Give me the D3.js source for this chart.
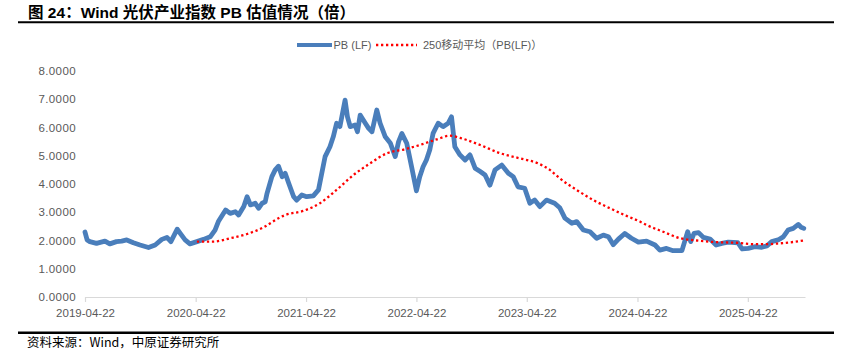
<!DOCTYPE html>
<html><head><meta charset="utf-8">
<script src="https://cdn.jsdelivr.net/npm/d3@7"></script>
<style>body{margin:0;background:#fff}svg{display:block}</style>
</head><body><svg id="c" width="850" height="356"></svg>
<script>
const titleText = "图 24：Wind 光伏产业指数 PB 估值情况（倍）";
const sourceText = "资料来源：Wind，中原证券研究所";
const legendLabels = ["PB (LF)", "250移动平均（PB(LF)）"];
const xTickLabels = ["2019-04-22","2020-04-22","2021-04-22","2022-04-22","2023-04-22","2024-04-22","2025-04-22"];
const xDomain = ["2019-04-22","2025-10-28"];
const yTicks = [0,1,2,3,4,5,6,7,8];

const pbDates = ["2019-04-22","2019-04-29","2019-05-08","2019-05-30","2019-06-27","2019-07-13","2019-08-04","2019-08-21","2019-09-07","2019-09-29",
"2019-10-21","2019-11-18","2019-12-10","2020-01-01","2020-01-18","2020-01-31","2020-02-21","2020-03-02","2020-03-18","2020-04-03",
"2020-04-26","2020-05-18","2020-06-09","2020-06-25","2020-07-06","2020-07-30","2020-08-14","2020-08-31","2020-09-11","2020-09-28",
"2020-10-09","2020-10-20","2020-11-05","2020-11-16","2020-11-28","2020-12-08","2020-12-14","2020-12-30","2021-01-10","2021-01-21",
"2021-02-02","2021-02-12","2021-02-24","2021-03-12","2021-03-22","2021-04-08","2021-04-24","2021-05-16","2021-06-02","2021-06-13",
"2021-06-24","2021-07-10","2021-07-21","2021-08-01","2021-08-12","2021-08-29","2021-09-06","2021-09-15","2021-10-01","2021-10-09",
"2021-10-18","2021-11-04","2021-11-15","2021-11-26","2021-12-12","2021-12-23","2022-01-09","2022-01-26","2022-02-11","2022-02-22",
"2022-03-05","2022-03-21","2022-04-06","2022-04-22","2022-05-03","2022-05-14","2022-05-25","2022-06-05","2022-06-16","2022-07-03",
"2022-07-19","2022-08-05","2022-08-16","2022-08-27","2022-09-13","2022-09-30","2022-10-16","2022-11-02","2022-11-19","2022-12-05",
"2022-12-21","2023-01-07","2023-01-29","2023-02-20","2023-03-08","2023-03-24","2023-04-15","2023-05-02","2023-05-18","2023-06-04",
"2023-06-26","2023-07-23","2023-08-09","2023-08-26","2023-09-18","2023-10-04","2023-10-26","2023-11-17","2023-12-09","2023-12-31",
"2024-01-17","2024-02-02","2024-02-19","2024-03-11","2024-04-02","2024-04-25","2024-05-22","2024-06-19","2024-07-05","2024-07-27",
"2024-08-18","2024-09-16","2024-09-25","2024-10-05","2024-10-15","2024-10-26","2024-11-10","2024-11-26","2024-12-18","2025-01-07",
"2025-01-26","2025-02-16","2025-03-20","2025-04-03","2025-04-23","2025-05-15","2025-06-07","2025-06-24","2025-07-10","2025-07-31",
"2025-08-17","2025-09-02","2025-09-19","2025-10-06","2025-10-15","2025-10-24"];
const pbValues = [2.30,2.02,1.96,1.90,1.98,1.88,1.96,1.98,2.02,1.92,
1.84,1.75,1.84,2.04,2.11,1.96,2.40,2.25,2.02,1.88,
1.96,2.04,2.13,2.37,2.67,3.08,2.96,3.02,2.90,3.20,
3.55,3.26,3.32,3.14,3.32,3.37,3.67,4.26,4.50,4.63,
4.26,4.38,4.02,3.55,3.43,3.61,3.55,3.58,3.79,4.38,
4.97,5.32,5.67,6.15,6.03,6.97,6.38,6.03,6.09,5.85,
6.44,6.15,5.97,5.85,6.62,6.15,5.67,5.44,4.97,5.50,
5.79,5.44,4.61,3.76,4.26,4.61,4.85,5.20,5.79,6.15,
6.03,6.15,6.38,5.32,5.03,4.85,5.03,4.56,4.44,4.32,
3.96,4.50,4.67,4.38,4.26,3.90,3.85,3.32,3.43,3.20,
3.43,3.32,3.16,2.79,2.61,2.67,2.37,2.31,2.08,2.19,
2.13,1.85,2.05,2.25,2.08,1.94,1.98,1.84,1.66,1.72,
1.64,1.64,1.96,2.31,1.96,2.25,2.28,2.11,2.05,1.84,
1.90,1.94,1.92,1.70,1.72,1.78,1.76,1.81,1.96,2.02,
2.13,2.37,2.43,2.57,2.47,2.43];

const maDates = ["2020-04-26","2020-06-19","2020-08-14","2020-10-09","2020-12-03","2021-01-21","2021-02-12","2021-04-13","2021-06-07","2021-08-01",
"2021-09-26","2021-11-20","2022-01-15","2022-03-11","2022-05-03","2022-06-28","2022-08-11","2022-09-13","2022-11-19","2023-01-24",
"2023-03-29","2023-05-29","2023-07-07","2023-08-09","2023-10-04","2023-11-28","2024-01-22","2024-03-17","2024-04-30","2024-05-22",
"2024-07-16","2024-09-10","2024-11-04","2025-01-10","2025-03-15","2025-05-09","2025-06-23","2025-08-06","2025-10-12","2025-10-24"];
const maValues = [1.96,1.96,2.08,2.23,2.47,2.79,2.90,3.05,3.32,3.79,
4.32,4.73,5.09,5.22,5.38,5.58,5.71,5.63,5.38,5.09,
4.91,4.73,4.50,4.20,3.79,3.43,3.14,2.87,2.67,2.55,
2.31,2.08,2.00,1.94,1.92,1.87,1.87,1.90,1.98,2.00];

const parse = d3.timeParse("%Y-%m-%d");
const pb = pbDates.map((d,i)=>({date:parse(d), v:pbValues[i]}));
const ma = maDates.map((d,i)=>({date:parse(d), v:maValues[i]}));

const svg = d3.select("#c");
const gray = "#595959";
const blue = "#4a7ebb";
const red = "#ff0000";

const x = d3.scaleTime().domain(xDomain.map(parse)).range([85,805]);
const y = d3.scaleLinear().domain([0,8]).range([297,71]);

// title
svg.append("text").attr("x",28).attr("y",17.5)
  .attr("font-family","'Liberation Sans','Noto Sans CJK SC',sans-serif")
  .attr("font-weight","bold").attr("font-size",15.5).attr("fill","#000")
  .attr("textLength",327).attr("lengthAdjust","spacing")
  .text(titleText);
svg.append("line").attr("x1",18).attr("x2",834).attr("y1",22.3).attr("y2",22.3)
  .attr("stroke","#000").attr("stroke-width",2);
svg.append("line").attr("x1",18).attr("x2",834).attr("y1",332.7).attr("y2",332.7)
  .attr("stroke","#000").attr("stroke-width",2.5);
svg.append("text").attr("x",27).attr("y",343).attr("dy","0.35em")
  .attr("font-family","'Noto Sans CJK SC',sans-serif").attr("font-size",12.5).attr("fill","#000")
  .text(sourceText);

// y axis
const yAxis = d3.axisLeft(y).tickValues(yTicks).tickSize(0).tickPadding(9).tickFormat(d3.format(".4f"));
const gy = svg.append("g").attr("transform","translate(85,0)").call(yAxis);
gy.select(".domain").remove();
gy.selectAll("text").attr("font-family","'Liberation Sans',sans-serif").attr("font-size",11.5)
  .attr("fill",gray).attr("letter-spacing","0.4px");

// x axis
const xAxis = d3.axisBottom(x).tickValues(xTickLabels.map(parse)).tickSize(5).tickSizeOuter(0)
  .tickFormat(d3.timeFormat("%Y-%m-%d"));
const gx = svg.append("g").attr("transform","translate(0,297)").call(xAxis);
gx.select(".domain").attr("stroke","#d9d9d9").attr("stroke-width",1.2);
gx.selectAll(".tick line").attr("stroke","#d9d9d9").attr("stroke-width",1.2);
gx.selectAll("text").attr("y",16).attr("dy","0.35em")
  .attr("font-family","'Liberation Sans',sans-serif").attr("font-size",11.5).attr("fill",gray);

// lines
const line = d3.line().x(d=>x(d.date)).y(d=>y(d.v));
svg.append("path").datum(pb).attr("d",line).attr("fill","none")
  .attr("stroke",blue).attr("stroke-width",4.8).attr("stroke-linejoin","round").attr("stroke-linecap","round");
svg.append("path").datum(ma).attr("d",line.curve(d3.curveMonotoneX)).attr("fill","none")
  .attr("stroke",red).attr("stroke-width",2.3).attr("stroke-dasharray","2.3,2.7");

// legend
const lg = svg.append("g");
lg.append("line").attr("x1",297).attr("x2",332).attr("y1",45).attr("y2",45)
  .attr("stroke",blue).attr("stroke-width",4);
lg.append("text").attr("x",333.5).attr("y",45).attr("dy","0.35em")
  .attr("font-family","'Liberation Sans','Noto Sans CJK SC',sans-serif").attr("font-size",11).attr("fill",gray)
  .text(legendLabels[0]);
lg.append("line").attr("x1",376).attr("x2",417).attr("y1",45).attr("y2",45)
  .attr("stroke",red).attr("stroke-width",2.3).attr("stroke-dasharray","2.3,2.7");
lg.append("text").attr("x",423).attr("y",45).attr("dy","0.35em")
  .attr("font-family","'Liberation Sans','Noto Sans CJK SC',sans-serif").attr("font-size",11).attr("fill",gray)
  .text(legendLabels[1]);
</script></body></html>
